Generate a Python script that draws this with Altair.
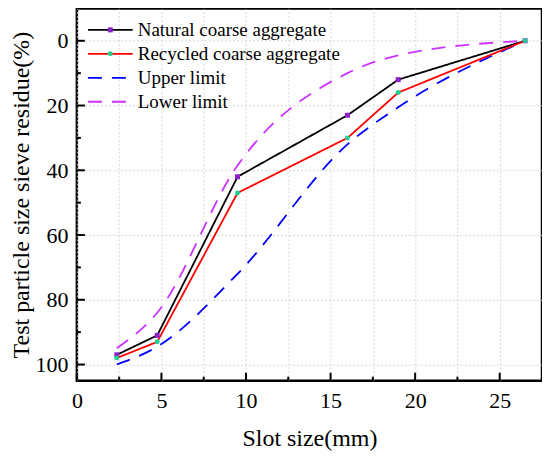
import altair as alt
import pandas as pd

# ---- data ----
sizes = [2.36, 4.75, 9.5, 16, 19, 26.5]
natural = [97, 91, 42, 23, 12, 0]
recycled = [98, 93, 47, 30, 16, 0]
upper = [100, 94.5, 72, 32, 20.5, 0]
lower = [95, 84, 38.5, 10, 4.5, 0]

series_names = ["Natural coarse aggregate", "Recycled coarse aggregate",
                "Upper limit", "Lower limit"]
line_colors = ["#000000", "#ff0000", "#0000ff", "#cc33ff"]
line_dashes = [[1, 0], [1, 0], [14, 10], [14, 10]]
line_widths = [1.8, 1.8, 3.3, 3.3]
marker_colors = ["#8e1ec8", "#20d090"]
marker_shapes = ["square", "circle"]

x_grid = [0, 2.5, 5, 7.5, 10, 12.5, 15, 17.5, 20, 22.5, 25, 27.5]
x_major = [0, 5, 10, 15, 20, 25]
x_minor = [2.5, 7.5, 12.5, 17.5, 22.5]
y_major = [0, 20, 40, 60, 80, 100]
y_minor = [10, 30, 50, 70, 90]

FONT = "Liberation Serif"
W, H = 466, 373

rows = []
for name, vals in zip(series_names, [natural, recycled, upper, lower]):
    for s, v in zip(sizes, vals):
        rows.append({"x": s, "y": v, "series": name})
df = pd.DataFrame(rows)
measured = df[df["series"].isin(series_names[:2])].copy()
measured["marker"] = measured["series"]
limits = df[df["series"].isin(series_names[2:])]

x_scale = alt.Scale(domain=[0, 27.5], nice=False, zero=False)
y_scale = alt.Scale(domain=[-10, 105], nice=False, zero=False, reverse=True)

LX, LY = 24, 12
color_enc = alt.Color("series:N",
                      scale=alt.Scale(domain=series_names, range=line_colors),
                      legend=alt.Legend(title=None, orient="none", legendX=LX, legendY=LY,
                                        symbolType="M-3.2,0H3.2", symbolSize=196,
                                        labelOffset=18, rowPadding=4,
                                        labelFont=FONT, labelFontSize=19,
                                        labelColor="black", labelLimit=400))
dash_enc = alt.StrokeDash("series:N",
                          scale=alt.Scale(domain=series_names, range=line_dashes),
                          legend=alt.Legend(title=None, orient="none", legendX=LX, legendY=LY))
width_enc = alt.StrokeWidth("series:N",
                            scale=alt.Scale(domain=series_names, range=line_widths),
                            legend=alt.Legend(title=None, orient="none", legendX=LX, legendY=LY))

x_enc = alt.X("x:Q", scale=x_scale,
              axis=alt.Axis(values=x_grid,
                            labelExpr="datum.value % 5 == 0 ? format(datum.value, 'd') : ''",
                            labelFlush=False,
                            title="Slot size(mm)", titlePadding=15, labelPadding=10))
y_enc = alt.Y("y:Q", scale=y_scale,
              axis=alt.Axis(values=y_major, labelFlush=False,
                            title="Test particle size sieve residue(%)",
                            titlePadding=1, labelPadding=9))

limit_lines = alt.Chart(limits).mark_line(interpolate="monotone").encode(
    x=x_enc, y=y_enc, color=color_enc, strokeDash=dash_enc, strokeWidth=width_enc)

measured_lines = alt.Chart(measured).mark_line().encode(
    x="x:Q", y="y:Q", color=color_enc, strokeDash=dash_enc, strokeWidth=width_enc)

points = alt.Chart(measured).mark_point(filled=True, size=25, opacity=1).encode(
    x="x:Q", y="y:Q",
    fill=alt.Fill("marker:N", scale=alt.Scale(domain=series_names[:2], range=marker_colors),
                  legend=alt.Legend(title=None, orient="none", legendX=LX, legendY=LY,
                                    symbolSize=25, rowPadding=4, symbolStrokeWidth=0,
                                    labelFont=FONT, labelFontSize=19,
                                    labelExpr="''")),
    shape=alt.Shape("marker:N", scale=alt.Scale(domain=series_names[:2], range=marker_shapes),
                    legend=alt.Legend(title=None, orient="none", legendX=LX, legendY=LY)),
)

xt_major = pd.DataFrame({"x": x_major})
xt_minor = pd.DataFrame({"x": x_minor})
yt_major = pd.DataFrame({"y": y_major})
yt_minor = pd.DataFrame({"y": y_minor})

xtick1 = alt.Chart(xt_major).mark_rule(color="black", strokeWidth=2).encode(
    x="x:Q", y=alt.value(H), y2=alt.value(H - 8))
xtick2 = alt.Chart(xt_minor).mark_rule(color="black", strokeWidth=2).encode(
    x="x:Q", y=alt.value(H), y2=alt.value(H - 4))
ytick1 = alt.Chart(yt_major).mark_rule(color="black", strokeWidth=2).encode(
    y="y:Q", x=alt.value(0), x2=alt.value(8))
ytick2 = alt.Chart(yt_minor).mark_rule(color="black", strokeWidth=2).encode(
    y="y:Q", x=alt.value(0), x2=alt.value(4))

chart = alt.layer(limit_lines, measured_lines, points, xtick1, xtick2, ytick1, ytick2).properties(
    width=W, height=H,
    background="white",
    autosize=alt.AutoSizeParams(type="none"),
    padding={"left": 69, "top": 0, "right": 0, "bottom": 70},
).configure_view(
    stroke="black", strokeWidth=2.5, fill="white"
).configure_axis(
    ticks=False, domain=False, grid=True,
    gridColor="#cfcfcf", gridDash=[2, 2], gridWidth=0.8,
    labelFont=FONT, labelFontSize=22, labelColor="black",
    titleFont=FONT, titleFontSize=24, titleFontWeight="normal", titleColor="black",
).configure_legend(labelFont=FONT)

chart.save("out.html", embed_options={"renderer": "svg", "actions": False})
